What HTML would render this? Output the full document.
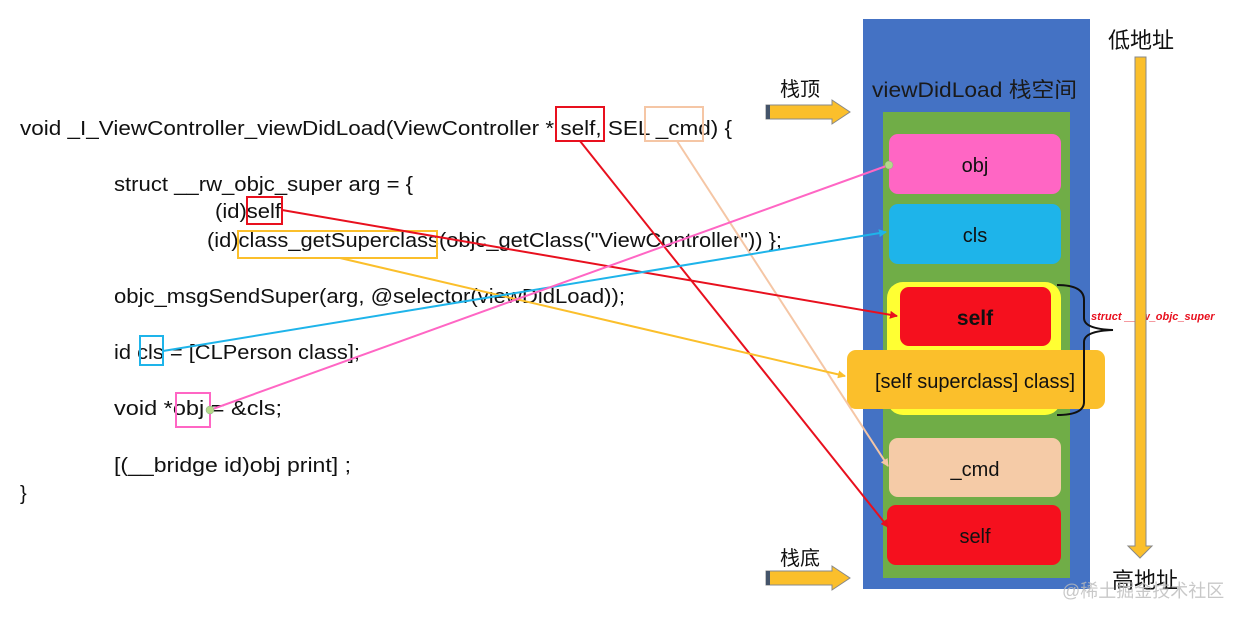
<!DOCTYPE html>
<html><head><meta charset="utf-8"><style>
html,body{margin:0;padding:0;background:#fff;}
svg{display:block;}
text{font-family:"Liberation Sans","Noto Sans CJK SC",sans-serif;}
.c{font-size:20px;fill:#111;}
</style></head><body>
<svg width="1240" height="618" viewBox="0 0 1240 618" xmlns="http://www.w3.org/2000/svg">
<defs>
<marker id="ar" markerWidth="8" markerHeight="8" refX="7" refY="4" orient="auto" markerUnits="userSpaceOnUse"><path d="M0,0 L8,4 L0,8 z" fill="#e8101e"/></marker>
<marker id="ap" markerWidth="8" markerHeight="8" refX="7" refY="4" orient="auto" markerUnits="userSpaceOnUse"><path d="M0,0 L8,4 L0,8 z" fill="#f5c6a5"/></marker>
<marker id="ao" markerWidth="8" markerHeight="8" refX="7" refY="4" orient="auto" markerUnits="userSpaceOnUse"><path d="M0,0 L8,4 L0,8 z" fill="#fbbf2b"/></marker>
<marker id="ab" markerWidth="8" markerHeight="8" refX="7" refY="4" orient="auto" markerUnits="userSpaceOnUse"><path d="M0,0 L8,4 L0,8 z" fill="#1eb4ea"/></marker>
</defs>

<rect x="863" y="19" width="227" height="570" fill="#4472c4"/>
<text x="872" y="97" font-size="21" fill="#1a1a1a" textLength="205" lengthAdjust="spacingAndGlyphs">viewDidLoad 栈空间</text>
<rect x="883" y="112" width="187" height="466" fill="#70ad47"/>
<rect x="889" y="134" width="172" height="60" rx="9" fill="#ff66c4"/>
<text x="975" y="172" font-size="20" text-anchor="middle" fill="#111">obj</text>
<rect x="889" y="204" width="172" height="60" rx="9" fill="#1eb4ea"/>
<text x="975" y="242" font-size="20" text-anchor="middle" fill="#111">cls</text>
<rect x="887" y="282" width="174" height="133" rx="16" fill="#ffff33"/>
<rect x="900" y="287" width="151" height="59" rx="9" fill="#f5101e"/>
<text x="975" y="325" font-size="21" font-weight="bold" text-anchor="middle" fill="#111">self</text>
<rect x="847" y="350" width="258" height="59" rx="9" fill="#fbbf2b"/>
<text x="975" y="388" font-size="20" text-anchor="middle" fill="#111">[self superclass] class]</text>
<rect x="889" y="438" width="172" height="59" rx="9" fill="#f5cba7"/>
<text x="975" y="476" font-size="20" text-anchor="middle" fill="#111">_cmd</text>
<rect x="887" y="505" width="174" height="60" rx="9" fill="#f5101e"/>
<text x="975" y="543" font-size="20" text-anchor="middle" fill="#111">self</text>

<path d="M1057,285 Q1084,285 1084,300 L1084,318 Q1084,329 1113,330 Q1084,331 1084,342 L1084,402 Q1084,415 1057,415" fill="none" stroke="#111" stroke-width="2"/>
<text x="1091" y="320" font-size="11" font-weight="bold" font-style="italic" fill="#e8101e">struct __rw_objc_super</text>

<text x="1108" y="48" font-size="22" fill="#111">低地址</text>
<path d="M1135,57 L1146,57 L1146,546 L1152,546 L1140,558 L1128,546 L1135,546 Z" fill="#fbbf2b" stroke="#888" stroke-width="1"/>
<text x="1112" y="588" font-size="22" fill="#111">高地址</text>
<text x="1062" y="597" font-size="18" fill="#bbb" opacity="0.8">@稀土掘金技术社区</text>

<text x="780" y="96" font-size="20" fill="#111">栈顶</text>
<path d="M766,105 L832,105 L832,100 L850,112 L832,124 L832,119 L766,119 Z" fill="#fbbf2b" stroke="#888" stroke-width="1"/>
<rect x="766" y="105" width="4" height="14" fill="#44546a"/>
<text x="780" y="565" font-size="20" fill="#111">栈底</text>
<path d="M766,571 L832,571 L832,566 L850,578 L832,590 L832,585 L766,585 Z" fill="#fbbf2b" stroke="#888" stroke-width="1"/>
<rect x="766" y="571" width="4" height="14" fill="#44546a"/>

<text class="c" x="20" y="135" textLength="712" lengthAdjust="spacingAndGlyphs">void _I_ViewController_viewDidLoad(ViewController * self, SEL _cmd) {</text>
<text class="c" x="114" y="191" textLength="299" lengthAdjust="spacingAndGlyphs">struct __rw_objc_super arg = {</text>
<text class="c" x="215" y="218" textLength="66" lengthAdjust="spacingAndGlyphs">(id)self</text>
<text class="c" x="207" y="247" textLength="575" lengthAdjust="spacingAndGlyphs">(id)class_getSuperclass(objc_getClass("ViewController")) };</text>
<text class="c" x="114" y="303" textLength="511" lengthAdjust="spacingAndGlyphs">objc_msgSendSuper(arg, @selector(viewDidLoad));</text>
<text class="c" x="114" y="359" textLength="246" lengthAdjust="spacingAndGlyphs">id cls = [CLPerson class];</text>
<text class="c" x="114" y="415" textLength="168" lengthAdjust="spacingAndGlyphs">void *obj = &amp;cls;</text>
<text class="c" x="114" y="472" textLength="237" lengthAdjust="spacingAndGlyphs">[(__bridge id)obj print] ;</text>
<text class="c" x="20" y="500">}</text>

<rect x="556" y="107" width="48" height="34" fill="none" stroke="#e8101e" stroke-width="2"/>
<rect x="645" y="107" width="58" height="34" fill="none" stroke="#f5c6a5" stroke-width="2"/>
<rect x="247" y="197" width="35" height="27" fill="none" stroke="#e8101e" stroke-width="2"/>
<rect x="238" y="231" width="199" height="27" fill="none" stroke="#fbbf2b" stroke-width="2"/>
<rect x="140" y="336" width="23" height="29" fill="none" stroke="#1eb4ea" stroke-width="2"/>
<rect x="176" y="393" width="34" height="34" fill="none" stroke="#ff66c4" stroke-width="2"/>

<line x1="580" y1="141" x2="888" y2="527" stroke="#e8101e" stroke-width="2" marker-end="url(#ar)"/>
<line x1="677" y1="141" x2="888" y2="466" stroke="#f5c6a5" stroke-width="2" marker-end="url(#ap)"/>
<line x1="282" y1="210" x2="897" y2="316" stroke="#e8101e" stroke-width="2" marker-end="url(#ar)"/>
<line x1="340" y1="258" x2="845" y2="376" stroke="#fbbf2b" stroke-width="2" marker-end="url(#ao)"/>
<line x1="163" y1="351" x2="886" y2="232" stroke="#1eb4ea" stroke-width="2" marker-end="url(#ab)"/>
<line x1="210" y1="410" x2="889" y2="165" stroke="#ff66c4" stroke-width="2"/>
<circle cx="210" cy="410" r="4" fill="#b5d88a" stroke="#8a8" stroke-width="0.5"/>
<circle cx="889" cy="165" r="4" fill="#b5d88a" stroke="#8a8" stroke-width="0.5"/>
</svg>
</body></html>
